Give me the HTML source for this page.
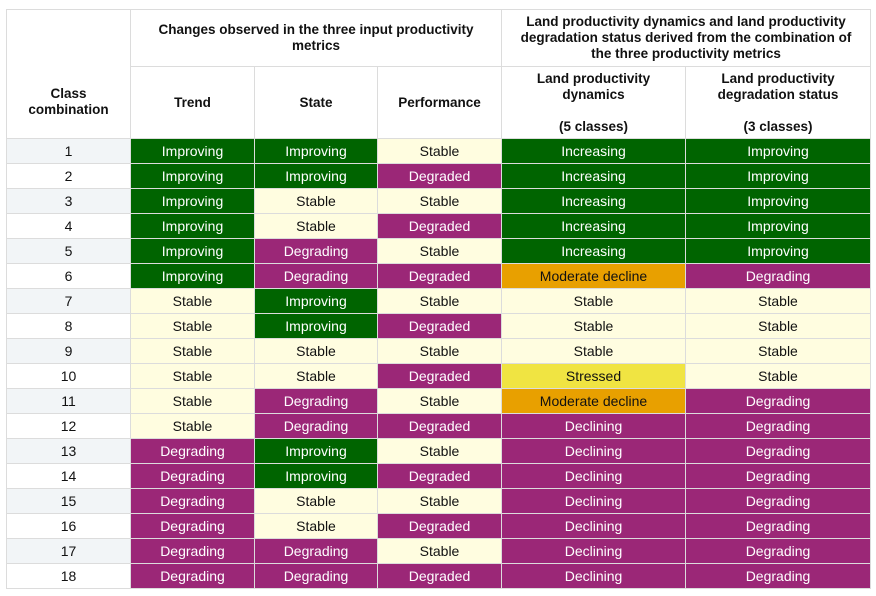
<!DOCTYPE html>
<html><head><meta charset="utf-8"><style>
body{margin:0;background:#fff;width:876px;height:596px;overflow:hidden;font-family:"Liberation Sans",sans-serif;}
table{position:absolute;left:6px;top:9px;border-collapse:collapse;table-layout:fixed;font-size:14px;}
td,th{border:1px solid #dcdcdc;text-align:center;padding:0;overflow:hidden;white-space:nowrap;}
th{font-weight:bold;font-size:13.5px;color:#111;line-height:16px;white-space:normal;background:#fff;}
tr.d td{height:24px;}
.c{color:#111;}
.odd{background:#f2f5f7;}
.g{background:#006400;color:#fff;}
.p{background:#9b2777;color:#fff;}
.s{background:#fffde0;color:#111;}
.o{background:#e8a000;color:#111;}
.y{background:#f0e442;color:#111;}
</style></head><body>
<table>
<colgroup><col style="width:124px"><col style="width:124px"><col style="width:123px"><col style="width:124px"><col style="width:184px"><col style="width:185px"></colgroup>
<tr style="height:57px">
<th rowspan="2" style="padding-top:56px">Class<br>combination</th>
<th colspan="3">Changes observed in the three input productivity<br>metrics</th>
<th colspan="2">Land productivity dynamics and land productivity<br>degradation status derived from the combination of<br>the three productivity metrics</th>
</tr>
<tr style="height:72px">
<th>Trend</th>
<th>State</th>
<th>Performance</th>
<th>Land productivity<br>dynamics<br><br>(5 classes)</th>
<th>Land productivity<br>degradation status<br><br>(3 classes)</th>
</tr>
<tbody id="body"></tbody>
</table>
<script>
const trend=["Improving","Improving","Improving","Improving","Improving","Improving","Stable","Stable","Stable","Stable","Stable","Stable","Degrading","Degrading","Degrading","Degrading","Degrading","Degrading"];
const state=["Improving","Improving","Stable","Stable","Degrading","Degrading","Improving","Improving","Stable","Stable","Degrading","Degrading","Improving","Improving","Stable","Stable","Degrading","Degrading"];
const perf=["Stable","Degraded","Stable","Degraded","Stable","Degraded","Stable","Degraded","Stable","Degraded","Stable","Degraded","Stable","Degraded","Stable","Degraded","Stable","Degraded"];
const dyn=["Increasing","Increasing","Increasing","Increasing","Increasing","Moderate decline","Stable","Stable","Stable","Stressed","Moderate decline","Declining","Declining","Declining","Declining","Declining","Declining","Declining"];
const stat=["Improving","Improving","Improving","Improving","Improving","Degrading","Stable","Stable","Stable","Stable","Degrading","Degrading","Degrading","Degrading","Degrading","Degrading","Degrading","Degrading"];
const cls={Improving:"g",Increasing:"g",Degrading:"p",Degraded:"p",Declining:"p",Stable:"s","Moderate decline":"o",Stressed:"y"};
const body=document.getElementById('body');
const names=["trend","state","performance","dynamics","status"];
for(let i=0;i<trend.length;i++){
  const tr=document.createElement('tr');tr.className='d';
  
  
  const c=document.createElement('td');c.className='c'+(i%2==0?' odd':'');c.textContent=i+1;
  
  
  tr.appendChild(c);
  [trend[i],state[i],perf[i],dyn[i],stat[i]].forEach((v,j)=>{
    const td=document.createElement('td');td.className=cls[v];td.textContent=v;
    
    
    tr.appendChild(td);
  });
  body.appendChild(tr);
}
</script>
</body></html>
